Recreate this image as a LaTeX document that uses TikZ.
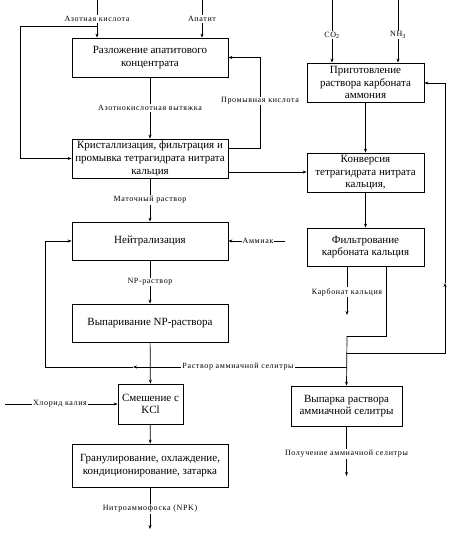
\documentclass[tikz,border=0pt]{standalone}
\usepackage{fontspec}
\setmainfont{Liberation Serif}
\usetikzlibrary{arrows.meta}
\begin{document}
\begin{tikzpicture}[x=1pt,y=-1pt,
  box/.style={draw,line width=0.8pt,align=center,inner sep=0pt,font=\fontsize{11}{12.8}\selectfont},
  wide/.style={box,minimum width=156pt},
  narrow/.style={box,minimum width=117pt},
  lbl/.style={fill=white,inner sep=1pt,font=\fontsize{8}{9}\selectfont\addfontfeature{LetterSpace=8}},
  ln/.style={line width=0.7pt},
  arr/.style={ln,-{Stealth[length=4pt,width=3pt]}}]
\useasboundingbox (0,0) rectangle (460,534);
% boxes
\node[wide,minimum height=39pt] (b1) at (150,57.5) {Разложение апатитового\\концентрата};
\node[wide,minimum height=39pt] (b2) at (150,158.5) {Кристаллизация, фильтрация и\\промывка тетрагидрата нитрата\\кальция};
\node[narrow,minimum height=39pt] (b3) at (365.5,82.5) {Приготовление\\раствора карбоната\\аммония};
\node[narrow,minimum height=39pt] (b4) at (365.5,172.5) {Конверсия\\тетрагидрата нитрата\\кальция,};
\node[narrow,minimum height=38pt] (b5) at (365.5,247) {Фильтрование\\карбоната кальция};
\node[wide,minimum height=38pt] (b6) at (150,241) {Нейтрализация};
\node[wide,minimum height=38pt] (b7) at (150,323) {Выпаривание NP-раствора};
\node[box,minimum width=65pt,minimum height=40pt] (b8) at (150.5,404) {Смешение с\\KCl};
\node[wide,minimum height=43pt] (b9) at (150,465.5) {Гранулирование, охлаждение,\\кондиционирование, затарка};
\node[box,minimum width=111pt,minimum height=40pt] (b10) at (346.5,406) {Выпарка раствора\\аммиачной селитры};
% free ends
\coordinate (nin) at (97,0);
\coordinate (ain) at (202,0);
\coordinate (nbr) at (97,26);
\coordinate (lc1) at (20,26);
\coordinate (lc2) at (20,158.5);
\coordinate (co2) at (332,0);
\coordinate (nh3) at (398,0);
\coordinate (pk1) at (260,148);
\coordinate (pk2) at (260,57.5);
\coordinate (kv) at (228,172);
\coordinate (ck1) at (347,266);
\coordinate (ck2) at (347,315);
\coordinate (f1) at (386,266);
\coordinate (f2) at (386,336);
\coordinate (f3) at (347,336);
\coordinate (r1) at (347,353);
\coordinate (r2) at (445,353);
\coordinate (r3) at (445,283);
\coordinate (r4) at (445,83);
\coordinate (s1) at (347,367);
\coordinate (s2) at (133,367);
\coordinate (s3) at (45,367);
\coordinate (s4) at (45,241);
\coordinate (am) at (285,241);
\coordinate (kcl) at (5,404);
\coordinate (npk) at (150,529);
\coordinate (an) at (346.5,476);
% inputs
\draw[arr] (nin) -- (nin |- b1.north);
\node[lbl] at (97,19) {Азотная кислота};
\draw[arr] (ain) -- (ain |- b1.north);
\node[lbl] at (202,19) {Апатит};
\draw[ln] (nbr) -- (lc1) -- (lc2);
\draw[arr] (lc2) -- (b2.west);
\draw[arr] (co2) -- (co2 |- b3.north);
\node[lbl] at (332,35) {CO\textsubscript{2}};
\draw[arr] (nh3) -- (nh3 |- b3.north);
\node[lbl] at (398,35) {NH\textsubscript{3}};
% main left chain
\draw[arr] (b1) -- (b2);
\node[lbl] at (150,108) {Азотнокислотная вытяжка};
\draw[ln] (b2.east |- pk1) -- (pk1) -- (pk2);
\draw[arr] (pk2) -- (b1.east);
\node[lbl] at (260,101) {Промывная кислота};
\draw[arr] (b2.east |- kv) -- (b4.west |- kv);
\draw[arr] (b2) -- (b6);
\node[lbl] at (150,200) {Маточный раствор};
\draw[arr] (am) -- (b6.east);
\node[lbl] at (258,241) {Аммиак};
\draw[arr] (b6) -- (b7);
\node[lbl] at (150,282) {NP-раствор};
\draw[arr] (b7) -- (b8);
\draw[arr] (kcl) -- (b8.west);
\node[lbl] at (60,404) {Хлорид калия};
\draw[arr] (b8) -- (b9);
\draw[arr] (b9) -- (npk);
\node[lbl] at (150,509) {Нитроаммофоска (NPK)};
% right chain
\draw[arr] (b3) -- (b4);
\draw[arr] (b4) -- (b5);
\draw[arr] (ck1) -- (ck2);
\node[lbl] at (347,292) {Карбонат кальция};
\draw[ln] (f1) -- (f2) -- (f3);
\draw[arr] (f3) -- (b10.north);
\draw[arr] (r1) -- (r2) -- (r3);
\draw[arr] (r3) -- (r4) -- (b3.east |- r4);
\draw[arr] (s1) -- (s2);
\draw[ln] (s2) -- (s3) -- (s4);
\draw[arr] (s4) -- (b6.west);
\node[lbl] at (238,367) {Раствор аммиачной селитры};
\draw[arr] (b10) -- (an);
\node[lbl] at (346.5,454) {Получение аммиачной селитры};
\end{tikzpicture}
\end{document}
